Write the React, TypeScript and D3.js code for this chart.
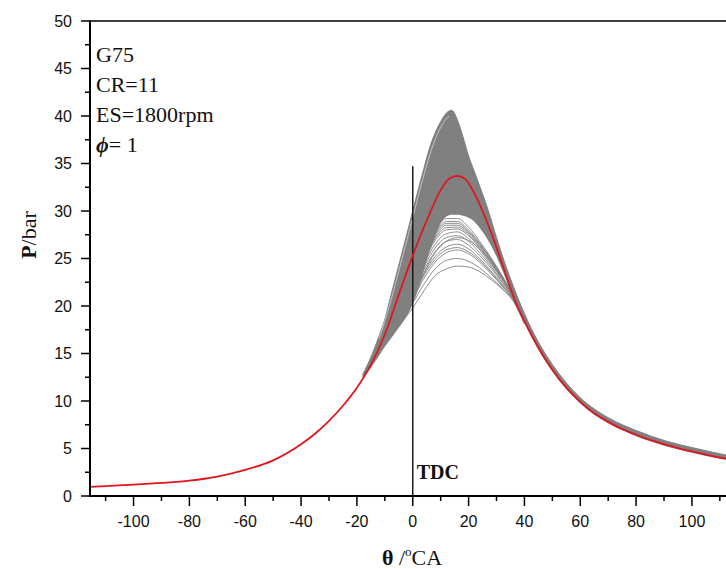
import React from "react";
import * as d3 from "d3";

// ---- data ----
const meanAngles = [-116, -110, -100, -90, -80, -70, -60, -50, -40, -35, -30, -25, -20, -15, -10, -5, 0, 5, 10, 13, 16, 19, 22, 25, 28, 31, 34, 37, 40, 45, 50, 55, 60, 65, 70, 75, 80, 85, 90, 95, 100, 105, 110, 116];
const meanPressure = [0.95, 1.05, 1.2, 1.38, 1.62, 2.05, 2.75, 3.75, 5.45, 6.55, 7.9, 9.5, 11.4, 13.8, 17.0, 21.2, 25.3, 29.0, 32.2, 33.4, 33.7, 33.3, 31.9, 30.0, 27.8, 25.3, 22.7, 20.3, 18.4, 15.6, 13.3, 11.4, 9.9, 8.7, 7.8, 7.05, 6.45, 5.9, 5.45, 5.05, 4.7, 4.35, 4.05, 3.75];

const bandAngles = [-18, -15, -12, -10, -8, -5, -2, 0, 2, 4, 6, 8, 10, 12, 14, 16, 18, 20, 22, 24, 27, 30, 33, 36, 40, 45, 50, 60, 70, 80, 90, 100, 110, 116];
const bandUpper = [12.75, 14.6, 16.9, 18.6, 20.9, 24.3, 27.7, 30.0, 32.3, 34.5, 36.6, 38.2, 39.4, 40.3, 40.6, 39.6, 37.8, 35.8, 34.2, 32.6, 30.1, 27.2, 24.5, 22.1, 19.2, 16.2, 13.85, 10.35, 8.25, 6.9, 5.85, 5.1, 4.45, 4.1];
const bandLower = [12.3, 13.5, 14.8, 15.7, 16.5, 17.7, 19.0, 20.2, 21.8, 23.8, 25.7, 27.3, 28.7, 29.4, 29.6, 29.6, 29.5, 29.3, 28.9, 28.2, 26.9, 25.2, 23.1, 20.9, 18.2, 15.4, 13.1, 9.75, 7.65, 6.3, 5.3, 4.55, 3.92, 3.65];

// a thin gap between the outermost cycles on the rising edge
const gapAngles = [-12, -8, -4, 0, 4, 8, 11, 13];
const gapPressure = [16.6, 20.4, 24.8, 29.3, 33.8, 37.5, 39.3, 40.0];

const sparseAngles = [-4, 0, 4, 8, 12, 16, 20, 24, 28, 32, 36, 40];
const cycleA = [18.3, 19.8, 21.6, 23.2, 23.9, 24.2, 24.1, 23.6, 22.8, 21.8, 20.5, 18.1];
const cycleB = [18.6, 20.3, 22.3, 23.9, 24.8, 25.0, 24.7, 24.0, 23.0, 21.9, 20.6, 18.2];
const cycleC = [18.8, 20.7, 22.9, 24.6, 25.6, 25.9, 25.5, 24.6, 23.4, 22.1, 20.7, 18.3];
const cycleD = [18.85, 20.85, 23.2, 24.9, 25.9, 26.15, 25.7, 24.8, 23.55, 22.2, 20.75, 18.3];
const cycleE = [18.9, 21.0, 23.4, 25.2, 26.2, 26.5, 26.0, 25.0, 23.7, 22.3, 20.8, 18.3];
const cycleF = [19.0, 21.3, 23.8, 25.7, 26.8, 27.0, 26.4, 25.3, 24.0, 22.5, 20.9, 18.4];
const cycleG = [18.8, 20.9, 23.5, 25.6, 26.8, 27.2, 26.9, 26.0, 24.6, 22.9, 21.0, 18.4];
const cycleH = [19.1, 21.5, 24.1, 26.1, 27.2, 27.4, 26.8, 25.6, 24.2, 22.6, 20.9, 18.4];
const cycleI = [19.2, 21.7, 24.4, 26.5, 27.6, 27.8, 27.1, 25.9, 24.4, 22.8, 21.0, 18.4];
const cycleJ = [19.3, 21.9, 24.7, 26.9, 28.0, 28.1, 27.4, 26.1, 24.6, 22.9, 21.0, 18.5];
const cycleK = [19.35, 22.0, 24.85, 27.1, 28.25, 28.3, 27.55, 26.25, 24.7, 22.95, 21.05, 18.5];
const cycleL = [19.4, 22.1, 25.0, 27.3, 28.5, 28.5, 27.7, 26.4, 24.8, 23.0, 21.1, 18.5];
const cycleM = [19.45, 22.2, 25.15, 27.5, 28.7, 28.7, 27.85, 26.5, 24.9, 23.05, 21.1, 18.5];
const cycleN = [19.5, 22.3, 25.3, 27.7, 28.9, 28.9, 28.0, 26.6, 25.0, 23.1, 21.1, 18.5];
const cycleO = [19.6, 22.5, 25.6, 28.0, 29.2, 29.2, 28.3, 26.8, 25.1, 23.2, 21.1, 18.5];
const sparseCycles = [cycleA, cycleB, cycleC, cycleD, cycleE, cycleF, cycleG, cycleH, cycleI, cycleJ, cycleK, cycleL, cycleM, cycleN, cycleO];

const xMajorTicks = [-100, -80, -60, -40, -20, 0, 20, 40, 60, 80, 100];
const xMinorTicks = [-110, -90, -70, -50, -30, -10, 10, 30, 50, 70, 90, 110];
const yMajorTicks = [0, 5, 10, 15, 20, 25, 30, 35, 40, 45, 50];
const yMinorTicks = [2.5, 7.5, 12.5, 17.5, 22.5, 27.5, 32.5, 37.5, 42.5, 47.5];
const tdcTop = 34.7;
const annotations = ["G75", "CR=11", "ES=1800rpm"];

// ---- layout ----
const W = 726;
const H = 569;
const left = 90;
const right = 726;
const top = 21;
const bottom = 496;

type Band = { a: number; hi: number; lo: number };

export default function App() {
  const x = d3.scaleLinear().domain([-115.6, 112.2]).range([left, right]);
  const y = d3.scaleLinear().domain([0, 50]).range([bottom, top]);

  const meanData = meanAngles.map((a, i) => [a, meanPressure[i]] as [number, number]);
  const bandData: Band[] = bandAngles.map((a, i) => ({ a, hi: bandUpper[i], lo: bandLower[i] }));
  const gapData = gapAngles.map((a, i) => [a, gapPressure[i]] as [number, number]);

  const line = d3
    .line<[number, number]>()
    .x((d) => x(d[0]))
    .y((d) => y(d[1]))
    .curve(d3.curveMonotoneX);

  const area = d3
    .area<Band>()
    .x((d) => x(d.a))
    .y0((d) => y(d.lo))
    .y1((d) => y(d.hi))
    .curve(d3.curveMonotoneX);

  const upperLine = d3
    .line<Band>()
    .x((d) => x(d.a))
    .y((d) => y(d.hi))
    .curve(d3.curveMonotoneX);

  const grey = "#808080";
  const serif = "'Liberation Serif', 'Times New Roman', serif";
  const sans = "'Liberation Sans', Arial, sans-serif";

  return (
    <svg
      width={W}
      height={H}
      style={{ position: "absolute", left: 0, top: 0, display: "block", background: "#fff" }}
    >
      <defs>
        <clipPath id="plotClip">
          <rect x={left} y={top} width={right - left} height={bottom - top} />
        </clipPath>
      </defs>
      <rect x={0} y={0} width={W} height={H} fill="#fff" />

      <g clipPath="url(#plotClip)">
        <path d={area(bandData) || ""} fill={grey} stroke="none" />
        <path d={upperLine(bandData) || ""} fill="none" stroke={grey} strokeWidth={1} />
        <path d={line(gapData) || ""} fill="none" stroke="#fff" strokeOpacity={0.75} strokeWidth={0.7} />
        {sparseCycles.map((c, k) => (
          <path
            key={k}
            d={line(sparseAngles.map((a, i) => [a, c[i]] as [number, number])) || ""}
            fill="none"
            stroke={grey}
            strokeWidth={0.9}
          />
        ))}
        <line x1={x(0)} x2={x(0)} y1={y(0)} y2={y(tdcTop)} stroke="#1a1a1a" strokeWidth={1.5} />
        <path d={line(meanData) || ""} fill="none" stroke="#e0161e" strokeWidth={1.8} />
      </g>

      {/* frame */}
      <line x1={left} x2={right} y1={top} y2={top} stroke="#000" strokeWidth={1.5} />
      <line x1={left} x2={left} y1={top - 0.75} y2={bottom + 1} stroke="#000" strokeWidth={2} />
      <line x1={left - 1} x2={right} y1={bottom} y2={bottom} stroke="#000" strokeWidth={2} />

      {/* y ticks */}
      {yMajorTicks.map((t) => (
        <g key={"ym" + t}>
          <line x1={left - 9} x2={left} y1={y(t)} y2={y(t)} stroke="#000" strokeWidth={1.5} />
          <text
            x={left - 18}
            y={y(t)}
            dy="0.36em"
            textAnchor="end"
            fontFamily={sans}
            fontSize={16}
            fill="#111"
          >
            {t}
          </text>
        </g>
      ))}
      {yMinorTicks.map((t) => (
        <line key={"yn" + t} x1={left - 5} x2={left} y1={y(t)} y2={y(t)} stroke="#000" strokeWidth={1.5} />
      ))}

      {/* x ticks */}
      {xMajorTicks.map((t) => (
        <g key={"xm" + t}>
          <line x1={x(t)} x2={x(t)} y1={bottom} y2={bottom + 10} stroke="#000" strokeWidth={1.5} />
          <text
            x={x(t)}
            y={bottom + 31}
            textAnchor="middle"
            fontFamily={sans}
            fontSize={16}
            fill="#111"
          >
            {t}
          </text>
        </g>
      ))}
      {xMinorTicks.map((t) => (
        <line key={"xn" + t} x1={x(t)} x2={x(t)} y1={bottom} y2={bottom + 5} stroke="#000" strokeWidth={1.5} />
      ))}

      {/* annotations */}
      {annotations.map((s, i) => (
        <text key={s} x={96} y={62 + i * 29.8} fontFamily={serif} fontSize={22} fill="#111">
          {s}
        </text>
      ))}
      <text x={96} y={151.5} fontFamily={serif} fontSize={22} fill="#111">
        <tspan fontWeight="bold" fontStyle="italic">ϕ</tspan>
        <tspan>= 1</tspan>
      </text>

      <text x={x(0) + 4} y={479} fontFamily={serif} fontSize={20} fontWeight="bold" fill="#111">
        TDC
      </text>

      {/* axis titles */}
      <text
        transform={`translate(36, 235) rotate(-90)`}
        textAnchor="middle"
        fontFamily={serif}
        fontSize={22}
        fill="#111"
      >
        <tspan fontWeight="bold">P</tspan>
        <tspan>/bar</tspan>
      </text>
      <text x={412} y={565} textAnchor="middle" fontFamily={serif} fontSize={22} fill="#111">
        <tspan fontWeight="bold">θ</tspan>
        <tspan> /</tspan>
        <tspan fontSize={13} dy={-9}>o</tspan>
        <tspan dy={9}>CA</tspan>
      </text>
    </svg>
  );
}
